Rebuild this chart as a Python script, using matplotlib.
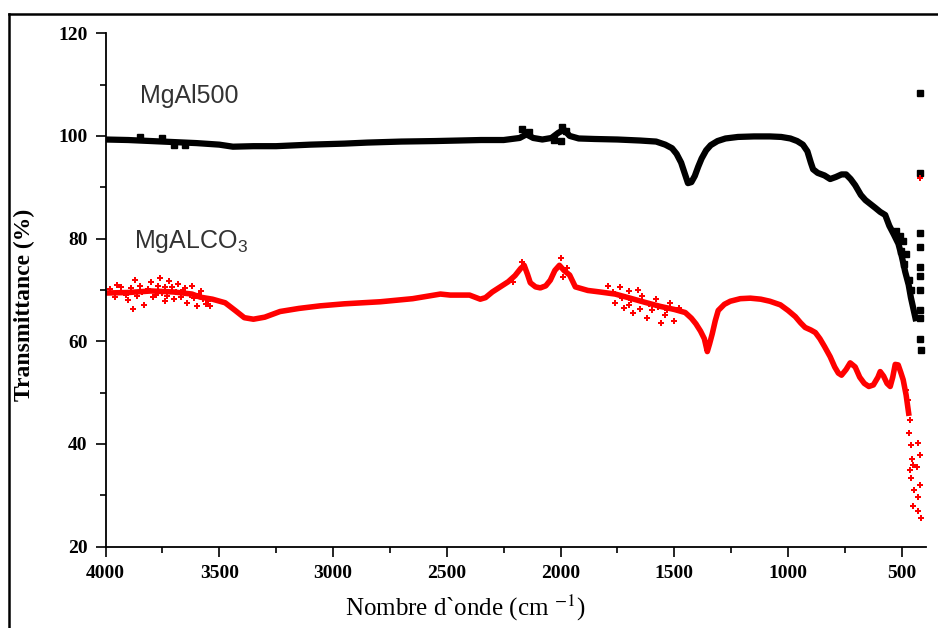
import matplotlib
matplotlib.use("Agg")
from matplotlib import pyplot as plt
from matplotlib.lines import Line2D

# MgAl500 main trace (wavenumber cm-1, transmittance %)
mgal_wn = [4000, 3900, 3800, 3700, 3600, 3500, 3440, 3350, 3250, 3100, 2950, 2850,
           2700, 2550, 2450, 2350, 2250, 2180, 2150, 2120, 2080, 2040, 2010, 1985,
           1960, 1920, 1850, 1750, 1650, 1580, 1540, 1510, 1490, 1470, 1455, 1440,
           1425, 1410, 1395, 1380, 1360, 1340, 1310, 1275, 1220, 1150, 1080, 1030,
           990, 960, 935, 915, 900, 890, 870, 840, 815, 790, 765, 745, 725, 705,
           680, 660, 640, 617, 595, 573, 555, 535, 515, 500, 485, 470, 460, 450, 440]
mgal_t = [99.3, 99.2, 99.0, 98.8, 98.6, 98.3, 97.9, 98.0, 98.0, 98.3, 98.5, 98.7,
          98.9, 99.0, 99.1, 99.2, 99.2, 99.6, 100.3, 99.6, 99.3, 99.6, 100.6, 101.2,
          100.0, 99.5, 99.4, 99.3, 99.1, 98.9, 98.3, 97.6, 96.5, 94.8, 92.8, 90.8,
          91.0, 92.2, 94.0, 95.6, 97.2, 98.2, 99.0, 99.5, 99.8, 99.9, 99.9, 99.8,
          99.5, 99.0, 98.3, 97.0, 94.8, 93.5, 92.8, 92.3, 91.6, 92.0, 92.5, 92.5, 91.6, 90.4,
          88.5, 87.5, 86.8, 86.0, 85.2, 84.6, 82.5, 80.8, 79.0, 76.5, 73.5, 71.0, 68.5, 66.5, 64.5]

# MgAl500 scattered points
mgal_pts_wn = [3850, 3750, 3700, 3650, 2170, 2140, 1995, 1975, 2030, 2000,
               525, 510, 505, 495, 490, 480, 470, 460,
               419, 418, 420, 421, 420, 422, 419, 420, 418, 417, 421]
mgal_pts_t = [99.8, 99.6, 98.3, 98.2, 101.3, 100.8, 101.8, 101.0, 99.2, 99.0,
              81.5, 80.5, 77.5, 79.5, 75.0, 77.0, 72.0, 70.0,
              108.3, 92.8, 81.0, 78.4, 74.5, 72.8, 70.0, 66.0, 60.5, 58.3, 64.5]

# MgALCO3 main trace
co3_wn = [4000, 3900, 3800, 3700, 3620, 3584, 3530, 3474, 3430, 3390, 3350, 3300,
          3233, 3150, 3057, 2950, 2792, 2650, 2528, 2485, 2400, 2353, 2330, 2300,
          2265, 2230, 2200, 2175, 2160, 2145, 2133, 2110, 2089, 2065, 2045, 2025,
          2005, 1985, 1960, 1935, 1880, 1826, 1760, 1694, 1630, 1562, 1500, 1452,
          1425, 1405, 1385, 1368, 1355, 1345, 1333, 1320, 1307, 1280, 1254, 1210,
          1166, 1120, 1080, 1034, 1000, 968, 945, 925, 900, 880, 860, 840, 815,
          795, 779, 765, 745, 727, 705, 685, 665, 645, 625, 605, 595, 580, 565,
          551, 540, 529, 516, 505, 494, 481, 470]
co3_t = [69.4, 69.5, 69.8, 69.6, 69.2, 68.6, 68.2, 67.5, 66.0, 64.6, 64.3, 64.7,
         65.8, 66.4, 66.9, 67.3, 67.7, 68.3, 69.2, 69.0, 69.0, 68.2, 68.5, 69.6,
         70.6, 71.6, 72.8, 74.2, 74.8, 73.0, 71.4, 70.6, 70.4, 70.8, 71.9, 73.8,
         74.8, 73.8, 72.9, 70.6, 69.9, 69.6, 69.2, 68.4, 67.6, 66.8, 66.2, 65.6,
         64.5, 63.4, 62.0, 60.5, 58.0, 59.5, 61.5, 64.0, 66.0, 67.2, 67.8, 68.3,
         68.4, 68.2, 67.8, 67.1, 66.0, 64.8, 63.6, 62.7, 62.2, 61.7, 60.5, 59.0, 57.0,
         55.0, 53.8, 53.4, 54.5, 55.8, 55.0, 53.0, 51.8, 51.2, 51.5, 53.0, 54.1, 53.2, 51.8,
         51.2, 53.0, 55.5, 55.4, 54.0, 52.5, 49.5, 46.0]

# MgALCO3 scattered points
co3_pts_wn = [3950, 3900, 3870, 3850, 3830, 3800, 3780, 3760, 3740, 3720, 3700, 3680,
              3660, 3640, 3620, 3600, 3580, 3560, 3880, 3740,
              3980, 3960, 3930, 3910, 3890, 3860, 3840, 3815, 3790, 3770, 3750, 3730,
              3710, 3690, 3670, 3650, 3630, 3610, 3590, 3570, 3550, 3540,
              2210, 2170, 2000, 1990, 1970,
              1790, 1760, 1740, 1720, 1700, 1680, 1660, 1640, 1620, 1600, 1580, 1560,
              1540, 1520, 1500, 1480, 1700, 1650, 1770, 1730, 1690, 1610, 1570, 1530,
              481, 472, 463, 467, 458, 427, 419, 454, 432, 458, 445, 419, 427, 450,
              427, 415, 450, 463, 421]
co3_pts_t = [71.0, 68.0, 72.0, 70.8, 67.0, 71.5, 69.0, 72.3, 70.5, 71.8, 68.3, 71.2,
             70.0, 67.5, 70.8, 66.8, 69.8, 67.2, 66.3, 67.8,
             70.2, 68.6, 70.6, 69.0, 70.4, 68.8, 69.6, 70.2, 68.6, 70.8, 69.4, 68.8,
             70.6, 69.6, 68.7, 70.4, 69.0, 68.4, 69.2, 68.3, 67.9, 66.8,
             71.5, 75.5, 76.3, 72.5, 74.2,
             70.8, 67.5, 70.5, 66.5, 69.8, 65.5, 70.0, 68.8, 64.5, 66.0, 68.2, 63.6,
             65.2, 67.4, 64.0, 66.5, 67.0, 66.2, 69.6, 68.5, 68.0, 67.3, 66.6, 66.0,
             50.5, 48.6, 44.6, 42.1, 39.8, 40.2, 37.9, 37.0, 35.5, 33.3, 31.0, 32.0, 29.6, 28.0,
             27.0, 25.6, 36.0, 35.0, 91.8]

x_ticks = [4000, 3500, 3000, 2500, 2000, 1500, 1000, 500]
y_ticks = [20, 40, 60, 80, 100, 120]

plt.rcParams['mathtext.fontset'] = 'custom'
plt.rcParams['mathtext.rm'] = 'Liberation Sans'

fig = plt.figure(figsize=(9.38, 6.28), dpi=100)
ax = fig.add_axes([0.1125, 0.1295, 0.8744, 0.8176])

ax.plot(mgal_wn, mgal_t, color='black', lw=4.5, solid_joinstyle='round')
ax.plot(mgal_pts_wn, mgal_pts_t, ls='none', marker='s', ms=4.5, color='black')
ax.plot(co3_wn, co3_t, color='red', lw=4.0, solid_joinstyle='round')
ax.plot(co3_pts_wn, co3_pts_t, ls='none', marker='P', ms=5, color='red', mew=0)

ax.set_xlim(4000, 395)
ax.set_ylim(20, 120)
ax.set_xticks(x_ticks)
ax.set_yticks(y_ticks)
ax.set_xticks([3750, 3250, 2750, 2250, 1750, 1250, 750], minor=True)
ax.set_yticks([30, 50, 70, 90, 110], minor=True)

for s in ['top', 'right']:
    ax.spines[s].set_visible(False)
for s in ['left', 'bottom']:
    ax.spines[s].set_linewidth(1.3)

ax.tick_params(which='major', direction='out', length=7, width=1.2, pad=6)
ax.tick_params(which='minor', direction='out', length=4, width=1.2)
for lab in ax.get_xticklabels() + ax.get_yticklabels():
    lab.set_fontfamily('Liberation Serif')
    lab.set_fontweight('bold')
    lab.set_fontsize(14)

ax.set_xlabel('Nombre d`onde (cm $^{-1}$)', family='Liberation Serif', fontsize=18,
              math_fontfamily='stix')
ax.xaxis.set_label_coords(0.438, -0.09)
ax.set_ylabel('Transmittance (%)', family='Liberation Serif', fontsize=17,
              fontweight='bold')
ax.yaxis.set_label_coords(-0.086, 0.47)

ax.text(3850, 107.8, 'MgAl500', family='Liberation Sans', fontsize=18, color='#333333',
        va='center')
ax.text(3875, 79.5, 'MgALCO$_3$', family='Liberation Sans', fontsize=18, color='#333333',
        va='center')

# outer frame (left and top edges)
fig.add_artist(Line2D([0.0096, 0.0096], [0.0, 0.9777], color='black', lw=1.8,
                      transform=fig.transFigure))
fig.add_artist(Line2D([0.0096, 1.0], [0.9777, 0.9777], color='black', lw=1.8,
                      transform=fig.transFigure))

fig.savefig('out.png', dpi=100)
